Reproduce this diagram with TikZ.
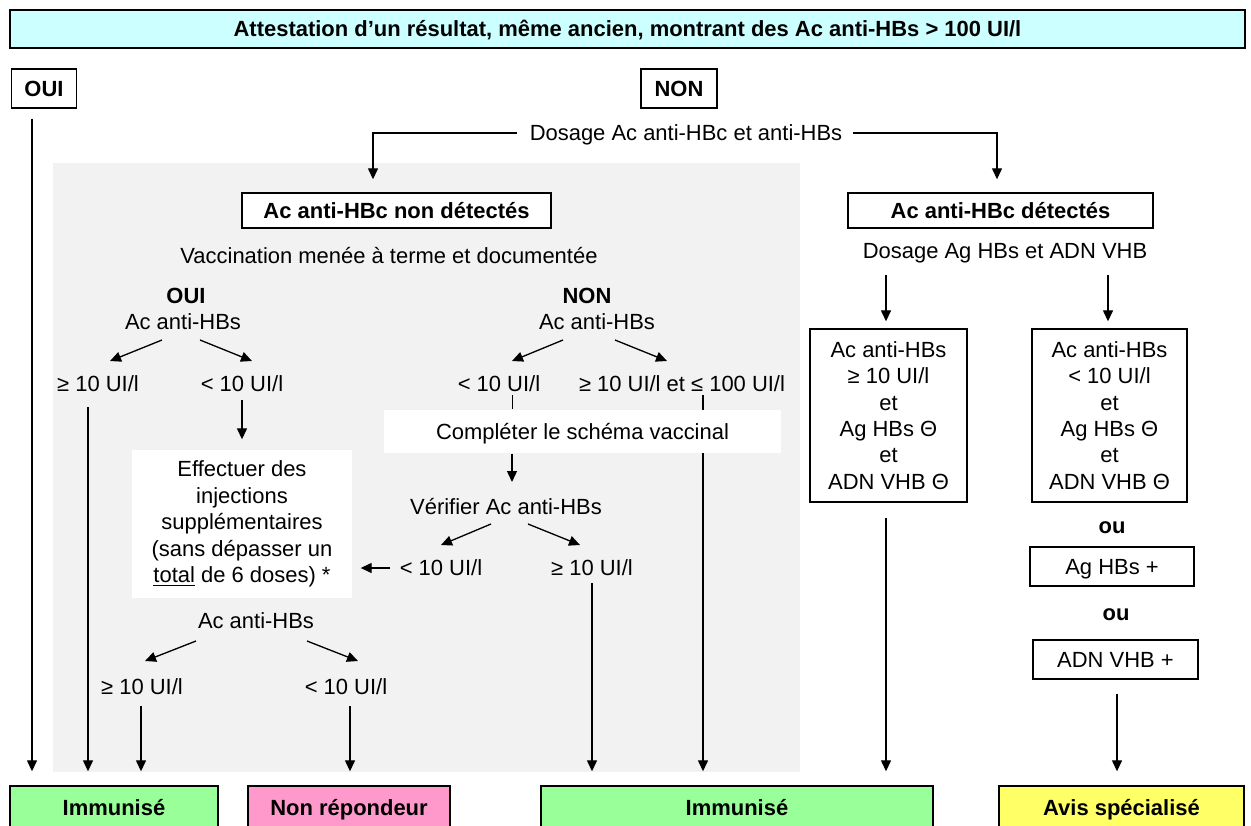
\documentclass[tikz,border=0pt]{standalone}
\usepackage{fontspec}
\setmainfont{Liberation Sans}
\usetikzlibrary{arrows.meta,calc}
\AtBeginDocument{\fontsize{12.5}{15}\selectfont}

\definecolor{titlecyan}{HTML}{CCFFFF}
\definecolor{zonegray}{HTML}{F2F2F2}
\definecolor{immgreen}{HTML}{99FF99}
\definecolor{nrpink}{HTML}{FF99CC}
\definecolor{avisyellow}{HTML}{FFFF66}

\tikzset{
  box/.style={draw, line width=0.8pt, fill=white, inner sep=0pt, align=center},
  oneline/.style={text height=0.72em, text depth=0pt},
  endbox/.style={box, oneline, font=\bfseries, minimum height=0.88cm},
  txt/.style={inner sep=0pt, align=center, oneline},
  arr/.style={-{Triangle[length=2.2mm,width=2mm]}, line width=0.75pt},
}

\begin{document}
\begin{tikzpicture}[x=0.02cm, y=-0.02cm]
\useasboundingbox (0,0) rectangle (1251,825);
\clip (0,0) rectangle (1251,825);

% gray zone
\fill[zonegray] (53,163) rectangle (800,772);

% title
\node[box, oneline, fill=titlecyan, font=\bfseries, minimum width=24.7cm, minimum height=0.76cm] (title) at (627.5,29) {Attestation d’un résultat, même ancien, montrant des Ac anti-HBs > 100 UI/l};

% OUI / NON
\node[box, oneline, font=\bfseries, minimum width=1.3cm, minimum height=0.78cm] (oui) at (44,88.5) {OUI};
\node[box, oneline, font=\bfseries, minimum width=1.52cm, minimum height=0.78cm] (non) at (679,88.5) {NON};

% results
\node[endbox, fill=immgreen, minimum width=4.16cm] (imm1) at (114,808) {Immunisé};
\node[endbox, fill=nrpink, minimum width=4.04cm] (nr) at (349,808) {Non répondeur};
\node[endbox, fill=immgreen, minimum width=7.84cm] (imm2) at (737,808) {Immunisé};
\node[endbox, fill=avisyellow, minimum width=4.9cm] (avis) at (1121.5,808) {Avis spécialisé};

\draw[arr, shorten <=0.2cm, shorten >=0.28cm] ([xshift=-0.24cm]oui.south) -- ([xshift=-0.24cm]oui.south |- imm1.north);

% dosage
\node[txt] (dos) at (686,133) {Dosage Ac anti-HBc et anti-HBs};
\node[box, oneline, font=\bfseries, minimum width=6.18cm, minimum height=0.7cm] (nondet) at (396.5,210.5) {Ac anti-HBc non détectés};
\node[box, oneline, font=\bfseries, minimum width=6.1cm, minimum height=0.7cm] (det) at (1000.5,210.5) {Ac anti-HBc détectés};
\draw[arr, shorten <=0.24cm] (dos.west) -| ([xshift=-0.47cm, yshift=0.26cm]nondet.north);
\draw[arr, shorten <=0.2cm] (dos.east) -| ([xshift=-0.07cm, yshift=0.26cm]det.north);

% vaccination OUI
\node[txt] (vacc) at (389,256) {Vaccination menée à terme et documentée};
\node[txt, font=\bfseries] (oui2) at (186,296) {OUI};
\node[txt] (ab1) at (183,322) {Ac anti-HBs};
\node[txt] (ge1) at (98,384) {≥ 10 UI/l};
\node[txt] (lt1) at (242,384) {< 10 UI/l};
\draw[arr] ($(ab1.center)+(-21,18)$) -- ($(ge1.center)+(12,-23)$);
\draw[arr] ($(ab1.center)+(17,18)$) -- ($(lt1.center)+(10,-23)$);
\draw[arr, shorten >=0.28cm] ([xshift=-0.2cm, yshift=-0.46cm]ge1.center) -- ([xshift=-0.2cm]ge1.center |- imm1.north);

\node[box, draw=none, minimum width=4.4cm, minimum height=2.96cm] (eff) at (242,524) {Effectuer des\\injections\\supplémentaires\\(sans dépasser un\\\underline{total} de 6 doses) *};
\draw[arr] ([yshift=-0.32cm]lt1.center) -- ([yshift=0.2cm]eff.north);

\node[txt] (ab2) at (256,621) {Ac anti-HBs};
\node[txt] (ge2) at (142,687) {≥ 10 UI/l};
\node[txt] (lt3) at (346,687) {< 10 UI/l};
\draw[arr] ($(ab2.center)+(-60,20)$) -- ($(ge2.center)+(3,-26)$);
\draw[arr] ($(ab2.center)+(51,20)$) -- ($(lt3.center)+(12,-26)$);
\draw[arr, shorten >=0.28cm] ([xshift=-0.02cm, yshift=-0.38cm]ge2.center) -- ([xshift=-0.02cm]ge2.center |- imm1.north);
\draw[arr, shorten >=0.28cm] ([xshift=0.08cm, yshift=-0.38cm]lt3.center) -- ([xshift=0.08cm]lt3.center |- nr.north);

% vaccination NON
\node[txt, font=\bfseries] (non2) at (587,296) {NON};
\node[txt] (ab3) at (597,322) {Ac anti-HBs};
\node[txt] (lt4) at (499,384) {< 10 UI/l};
\node[txt] (ge4) at (682,384) {≥ 10 UI/l et ≤ 100 UI/l};
\draw[arr] ($(ab3.center)+(-34,18)$) -- ($(lt4.center)+(13,-23)$);
\draw[arr] ($(ab3.center)+(18,18)$) -- ($(ge4.center)+(-15,-23)$);
\draw[arr, shorten >=0.28cm] ([xshift=0.42cm, yshift=-0.22cm]ge4.center) -- ([xshift=0.42cm]ge4.center |- imm2.north);

\node[box, oneline, draw=none, minimum width=7.94cm, minimum height=0.86cm] (compl) at (582.5,431.5) {Compléter le schéma vaccinal};
\draw ([xshift=0.26cm, yshift=-0.22cm]lt4.center) -- ([xshift=0.26cm]lt4.center |- compl.north);
\node[txt] (ver) at (506,507) {Vérifier Ac anti-HBs};
\draw[arr] ([xshift=0.26cm]lt4.center |- compl.south) -- ([xshift=0.26cm, yshift=0.5cm]lt4.center |- ver.center);

\node[txt] (lt5) at (441,568) {< 10 UI/l};
\node[txt] (ge5) at (592,568) {≥ 10 UI/l};
\draw[arr] ($(ver.center)+(-15,17)$) -- ($(lt5.center)+(0,-23)$);
\draw[arr] ($(ver.center)+(22,17)$) -- ($(ge5.center)+(-12,-23)$);
\draw[arr] ([xshift=-0.18cm]lt5.west) -- ([xshift=0.16cm]eff.east |- lt5.west);
\draw[arr, shorten >=0.28cm] ([yshift=-0.3cm]ge5.center) -- (ge5.center |- imm2.north);

% anti-HBc detectes
\node[txt] (dosag) at (1005,251) {Dosage Ag HBs et ADN VHB};
\node[box, minimum width=3.14cm, minimum height=3.46cm] (pos1) at (888.5,415.5) {Ac anti-HBs\\≥ 10 UI/l\\et\\Ag HBs Θ\\et\\ADN VHB Θ};
\node[box, minimum width=3.1cm, minimum height=3.46cm] (pos2) at (1109.5,415.5) {Ac anti-HBs\\< 10 UI/l\\et\\Ag HBs Θ\\et\\ADN VHB Θ};
\node[txt, font=\bfseries] (ou1) at (1112,526) {ou};
\node[box, oneline, minimum width=3.28cm, minimum height=0.78cm] (agpos) at (1112,566.5) {Ag HBs +};
\node[txt, font=\bfseries] (ou2) at (1116,613) {ou};
\node[box, oneline, minimum width=3.3cm, minimum height=0.78cm] (adnpos) at (1115.5,659.5) {ADN VHB +};
\draw[arr] ([xshift=-0.05cm, yshift=-0.48cm]pos1.north |- dosag.center) -- ([xshift=-0.05cm, yshift=0.14cm]pos1.north);
\draw[arr] ([xshift=-0.03cm, yshift=-0.48cm]pos2.north |- dosag.center) -- ([xshift=-0.03cm, yshift=0.14cm]pos2.north);
\draw[arr, shorten >=0.28cm] ([xshift=-0.05cm, yshift=-0.3cm]pos1.south) -- ([xshift=-0.05cm]pos1.south |- imm2.north);
\draw[arr, shorten >=0.28cm] ([xshift=0.03cm, yshift=-0.28cm]adnpos.south) -- ([xshift=0.03cm]adnpos.south |- avis.north);

\end{tikzpicture}
\end{document}
